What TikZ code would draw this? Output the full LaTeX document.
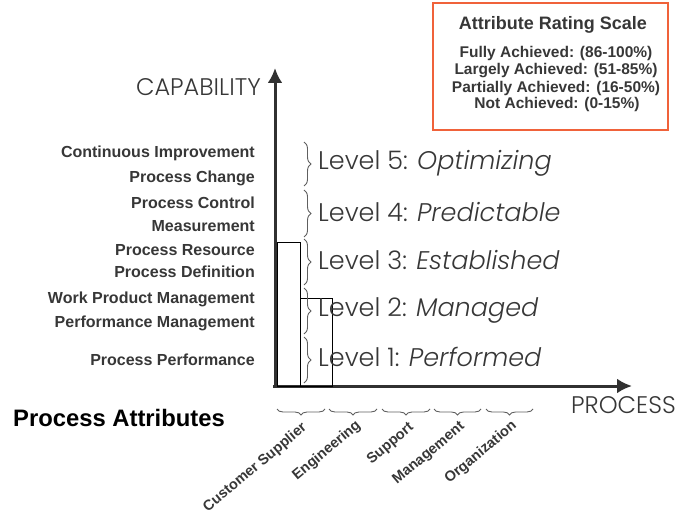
\documentclass[tikz,border=0pt]{standalone}
\usepackage{fontspec}
\setmainfont{Liberation Sans}
\newfontfamily\gothic{Poppins Light}
\usetikzlibrary{arrows.meta,decorations.pathreplacing}
\definecolor{ink}{RGB}{55,55,55}
\definecolor{scaleframe}{RGB}{240,98,58}
\tikzset{
  attr/.style={font=\bfseries\fontsize{16}{16}\selectfont, text=ink, anchor=east, inner sep=0pt},
  lvl/.style={font=\gothic\fontsize{25.5}{25.5}\selectfont, text=ink, anchor=west, inner sep=0pt},
  axislabel/.style={font=\gothic\fontsize{24}{24}\selectfont, text=ink, inner sep=0pt},
  proc/.style={font=\bfseries\fontsize{14.5}{14.5}\selectfont, text=ink, anchor=east, rotate=40, inner sep=0pt},
  scaleline/.style={font=\bfseries\fontsize{15.5}{15.5}\selectfont, text=ink, inner sep=0pt},
  brc/.style={decorate, decoration={brace, amplitude=7pt}, draw=ink!80, line width=0.9pt},
}
\begin{document}
\begin{tikzpicture}[x=1pt,y=-1pt]
  \useasboundingbox (0,0) rectangle (682,521);

  % rating scale
  \draw[scaleframe, line width=1.5pt] (433,3) rectangle (668,130);
  \node[scaleline, font=\bfseries\fontsize{18}{18}\selectfont] (scaletitle) at (553,25) {Attribute Rating Scale};
  \node[scaleline] (fully) at (556,53) {Fully Achieved: (86-100\%)};
  \node[scaleline] (largely) at (556,71) {Largely Achieved: (51-85\%)};
  \node[scaleline] (partially) at (556,88) {Partially Achieved: (16-50\%)};
  \node[scaleline] (notach) at (557,104) {Not Achieved: (0-15\%)};

  % axes
  \coordinate (origin) at (275,386);
  \coordinate (captop) at (275,68);
  \coordinate (procend) at (632,386);
  \draw[ink!90!black, line width=3pt, -{Latex[length=15pt,width=15pt]}] (275,388) -- (captop);
  \draw[ink!90!black, line width=3pt, -{Latex[length=15pt,width=15pt]}] (273,386) -- (procend);
  \node[axislabel, anchor=east] (capability) at (261,87) {CAPABILITY};
  \node[axislabel, anchor=west] (process) at (571,405) {PROCESS};

  % bars
  \draw[black, line width=0.8pt] (277,242) rectangle (300,386);
  \draw[black, line width=0.8pt] (300,298) rectangle (332,386);

  % capability levels
  \foreach \a/\b in {142/186, 190/237, 239/285, 288/334, 337/383}
    \draw[brc] (304,\a) -- (304,\b);
  \node[lvl] (lvl5) at (318,163) {Level 5: \textit{Optimizing}};
  \node[lvl] (lvl4) at (318,212) {Level 4: \textit{Predictable}};
  \node[lvl] (lvl3) at (318,260) {Level 3: \textit{Established}};
  \node[lvl] (lvl2) at (318,310) {Level 2: \textit{Managed}};
  \node[lvl] (lvl1) at (318,357) {Level 1: \textit{Performed}};

  % attributes
  \node[attr] (pa51) at (255,153) {Continuous Improvement};
  \node[attr] (pa52) at (255,178) {Process Change};
  \node[attr] (pa42) at (255,203) {Process Control};
  \node[attr] (pa41) at (255,226) {Measurement};
  \node[attr] (pa32) at (255,250) {Process Resource};
  \node[attr] (pa31) at (255,272) {Process Definition};
  \node[attr] (pa22) at (255,299) {Work Product Management};
  \node[attr] (pa21) at (255,323) {Performance Management};
  \node[attr] (pa11) at (255,360) {Process Performance};
  \node[font=\bfseries\fontsize{23.8}{23.8}\selectfont, anchor=west, inner sep=0pt] (attrs) at (13,418) {Process Attributes};

  % process categories
  \foreach \a/\b in {277/325, 329/377, 382/430, 434/481, 486/533}
    \draw[brc, decoration={amplitude=6pt}] (\b,409) -- (\a,409);
  \node[proc] (cus) at (305,426) {Customer Supplier};
  \node[proc] (eng) at (359,424) {Engineering};
  \node[proc] (sup) at (412,426) {Support};
  \node[proc] (man) at (463,425) {Management};
  \node[proc] (org) at (515,424) {Organization};
\end{tikzpicture}
\end{document}
